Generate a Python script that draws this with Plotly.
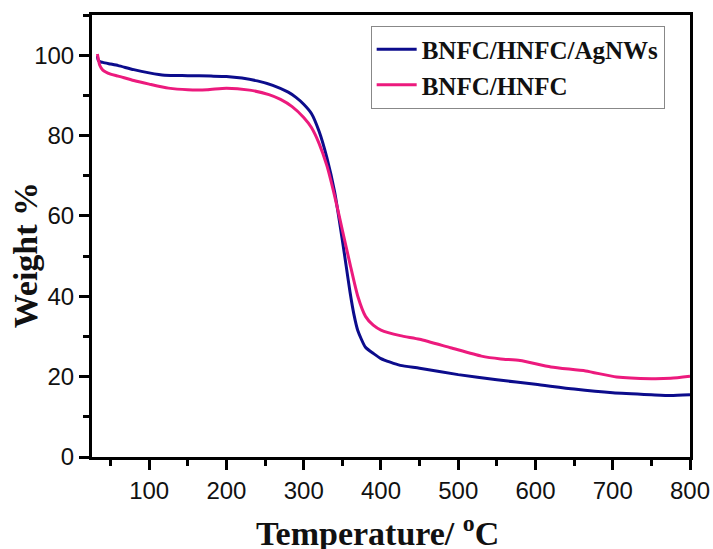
import plotly.graph_objects as go

# Temperature (°C) and weight (%)
temp_agnws = [33, 34, 36, 40, 50, 60, 80, 100, 120, 150, 180, 200, 220, 240, 260, 280, 290, 300, 310, 320,
              330, 340, 350, 355, 360, 365, 370, 380, 390, 400, 425, 450, 500, 550, 600, 650, 700, 750, 775, 800]
weight_agnws = [99.8, 98.8, 98.4, 98.2, 97.8, 97.4, 96.4, 95.6, 95.0, 94.9, 94.8, 94.7, 94.3, 93.6, 92.5, 90.8,
                89.5, 87.8, 85.5, 81.0, 74.5, 66.0, 54.0, 47.5, 41.0, 35.5, 31.5, 27.3, 25.8, 24.5, 22.8, 22.1,
                20.5, 19.2, 18.1, 16.9, 16.0, 15.5, 15.3, 15.5]

temp_bh = [33, 36, 40, 50, 60, 80, 100, 125, 150, 175, 200, 230, 255, 270, 285, 300, 310, 320, 330, 340,
           350, 360, 370, 380, 390, 400, 425, 450, 490, 530, 555, 580, 620, 665, 705, 750, 775, 800]
weight_bh = [100.3, 97.5, 96.3, 95.3, 94.8, 93.7, 92.8, 91.8, 91.4, 91.4, 91.8, 91.3, 90.2, 89.0, 87.2, 84.5,
             82.0, 78.0, 72.5, 65.0, 56.5, 48.0, 40.0, 35.0, 32.8, 31.6, 30.2, 29.3, 27.2, 25.1, 24.4, 24.0,
             22.4, 21.4, 19.9, 19.5, 19.6, 20.1]

series_names = ["BNFC/HNFC/AgNWs", "BNFC/HNFC"]
series_colors = ["#0c0c8c", "#ec1a7d"]

fig = go.Figure()
fig.add_trace(go.Scatter(x=temp_agnws, y=weight_agnws, mode="lines", name="<b>" + series_names[0] + "</b>",
                         line=dict(color=series_colors[0], width=3, shape="spline", smoothing=0.6)))
fig.add_trace(go.Scatter(x=temp_bh, y=weight_bh, mode="lines", name="<b>" + series_names[1] + "</b>",
                         line=dict(color=series_colors[1], width=3, shape="spline", smoothing=0.6)))

tick_font = dict(family="Liberation Sans, Arial", size=24, color="#111")
title_font = dict(family="Liberation Serif, Times New Roman", size=34, color="#111")

fig.update_xaxes(range=[26, 800], tick0=0, dtick=100, ticks="outside", ticklen=10, tickwidth=3,
                 tickcolor="black", showline=True, linewidth=3, linecolor="black", mirror=True,
                 showgrid=False, zeroline=False, tickfont=tick_font, automargin=False,
                 minor=dict(dtick=50, tick0=0, ticks="outside", ticklen=6, tickwidth=3, tickcolor="black"))
fig.update_yaxes(range=[0, 110], tick0=0, dtick=20, ticks="outside", ticklen=10, tickwidth=3,
                 tickcolor="black", showline=True, linewidth=3, linecolor="black", mirror=True,
                 showgrid=False, zeroline=False, tickfont=tick_font, automargin=False,
                 minor=dict(dtick=10, tick0=0, ticks="outside", ticklen=6, tickwidth=3, tickcolor="black"))

fig.add_annotation(text="<b>Temperature/ <sup>o</sup>C</b>", xref="paper", yref="paper",
                   x=0.477, y=-0.168, xanchor="center", yanchor="middle", showarrow=False, font=title_font)
fig.add_annotation(text="<b>Weight %</b>", xref="paper", yref="paper", textangle=-90,
                   x=-0.1115, y=0.457, xanchor="center", yanchor="middle", showarrow=False, font=title_font)

fig.update_layout(
    width=713, height=549,
    margin=dict(l=92, r=23, t=15, b=92, autoexpand=False),
    plot_bgcolor="white", paper_bgcolor="white",
    legend=dict(x=0.466, y=0.976, xanchor="left", yanchor="top",
                bgcolor="white", bordercolor="#888", borderwidth=1,
                font=dict(family="Liberation Serif, Times New Roman", size=25, color="#111"),
                tracegroupgap=0, itemwidth=40),
)

fig.write_html("out.html", config={"displayModeBar": False},
               post_script="document.body.style.margin='0';document.body.style.overflow='hidden';")
